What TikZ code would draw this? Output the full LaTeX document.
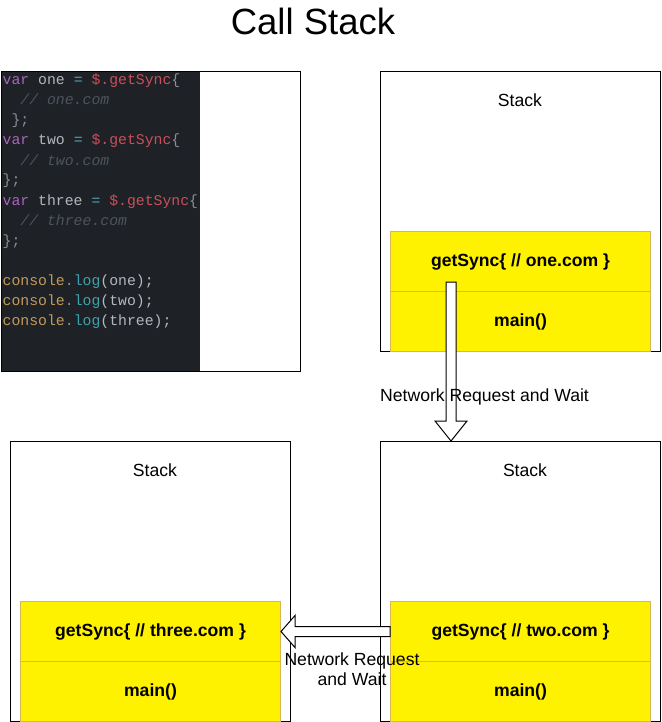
\documentclass[tikz,border=0pt]{standalone}
\usepackage{fontspec}
\setmainfont{Liberation Sans}
\newfontfamily\codefont{Liberation Mono}
\usetikzlibrary{calc}
\definecolor{codebg}{HTML}{1E2125}
\definecolor{ckw}{HTML}{A865BC}
\definecolor{ctx}{HTML}{B4B8BE}
\definecolor{cop}{HTML}{4FA9B3}
\definecolor{cfn}{HTML}{C9505C}
\definecolor{ccm}{HTML}{4E545E}
\definecolor{cpn}{HTML}{8A8F97}
\definecolor{ccn}{HTML}{C49A5C}
\definecolor{clog}{HTML}{3FA3AD}
\definecolor{ystroke}{HTML}{D6B656}
\newcommand{\Kw}[1]{\textcolor{ckw}{#1}}
\newcommand{\Tx}[1]{\textcolor{ctx}{#1}}
\newcommand{\Op}[1]{\textcolor{cop}{#1}}
\newcommand{\Fn}[1]{\textcolor{cfn}{#1}}
\newcommand{\Cm}[1]{\textcolor{ccm}{\itshape #1}}
\newcommand{\Pn}[1]{\textcolor{cpn}{#1}}
\newcommand{\Cn}[1]{\textcolor{ccn}{#1}}
\newcommand{\Lg}[1]{\textcolor{clog}{#1}}
\begin{document}
\begin{tikzpicture}[x=1pt,y=-1pt,
  codeline/.style={anchor=base west,inner sep=0pt,font=\codefont\fontsize{14.8}{20}\selectfont},
  stackbox/.style={draw=black,line width=1pt,minimum width=280pt,minimum height=280pt,inner sep=0pt,fill=white},
  stacklabel/.style={inner sep=0pt,font=\fontsize{17.6}{20}\selectfont},
  frame/.style={draw=ystroke,fill=yellow,line width=1pt,minimum width=260pt,minimum height=60pt,inner sep=0pt,font=\bfseries\fontsize{17.6}{20}\selectfont},
  blockarrow/.style={draw=black,fill=white,line width=1pt,line join=miter},
  note/.style={inner sep=0pt,font=\fontsize{17.6}{20}\selectfont,align=center}]
\useasboundingbox (0,0) rectangle (661,722);
\fill[white] (0,0) rectangle (661,722);

% title
\node[inner sep=0pt,font=\fontsize{36.5}{40}\selectfont] (title) at (313,21) {Call Stack};

% code panel
\node[draw=black,line width=1pt,minimum width=299pt,minimum height=300pt,inner sep=0pt,anchor=north west] (codepanel) at (1,71) {};
\node[fill=codebg,minimum width=198pt,minimum height=299pt,inner sep=0pt,anchor=north west] (codebg) at (1.5,71.5) {};
\node[codeline] (l1) at (2.5,85) {\Kw{var} \Tx{one} \Op{=} \Fn{\$.getSync}\Pn{\{}};
\node[codeline] (l2) at (2.5,105) {\phantom{ab}\Cm{// one.com}};
\node[codeline] (l3) at (2.5,125) {\phantom{a}\Pn{\};}};
\node[codeline] (l4) at (2.5,145) {\Kw{var} \Tx{two} \Op{=} \Fn{\$.getSync}\Pn{\{}};
\node[codeline] (l5) at (2.5,165) {\phantom{ab}\Cm{// two.com}};
\node[codeline] (l6) at (2.5,185) {\Pn{\};}};
\node[codeline] (l7) at (2.5,205) {\Kw{var} \Tx{three} \Op{=} \Fn{\$.getSync}\Pn{\{}};
\node[codeline] (l8) at (2.5,225) {\phantom{ab}\Cm{// three.com}};
\node[codeline] (l9) at (2.5,245) {\Pn{\};}};
\node[codeline] (l11) at (2.5,285) {\Cn{console}\Pn{.}\Lg{log}\Tx{(one);}};
\node[codeline] (l12) at (2.5,305) {\Cn{console}\Pn{.}\Lg{log}\Tx{(two);}};
\node[codeline] (l13) at (2.5,325) {\Cn{console}\Pn{.}\Lg{log}\Tx{(three);}};

% stacks
\node[stackbox,anchor=north west] (stackA) at (380,71) {};
\node[stackbox,anchor=north west] (stackB) at (380,441) {};
\node[stackbox,anchor=north west] (stackC) at (10,441) {};
\node[stacklabel] (labA) at (520,100) {Stack};
\node[stacklabel] (labB) at (525,470) {Stack};
\node[stacklabel] (labC) at (155,470) {Stack};

% frames
\node[frame,anchor=north west] (one) at (390,231) {getSync\{ // one.com \}};
\node[frame,anchor=north west] (mainA) at (390,291) {main()};
\node[frame,anchor=north west] (two) at (390,601) {getSync\{ // two.com \}};
\node[frame,anchor=north west] (mainB) at (390,661) {main()};
\node[frame,anchor=north west] (three) at (20,601) {getSync\{ // three.com \}};
\node[frame,anchor=north west] (mainC) at (20,661) {main()};

% down block arrow
\coordinate (dS) at ($(one.south west)+(61,-10)$);
\coordinate (dE) at ($(stackB.north west)+(71,0)$);
\draw[blockarrow] ($(dS)+(-5,0)$) -- ($(dE)+(-5,-20)$) -- ($(dE)+(-16,-20)$) -- (dE)
  -- ($(dE)+(16,-20)$) -- ($(dE)+(5,-20)$) -- ($(dS)+(5,0)$) -- cycle;
\node[note,anchor=west] (noteA) at (380,397) {Network Request and Wait};

% left block arrow
\coordinate (lS) at (two.west);
\coordinate (lE) at (three.east);
\draw[blockarrow] ($(lS)+(0,-5)$) -- ($(lE)+(14,-5)$) -- ($(lE)+(14,-16)$) -- (lE)
  -- ($(lE)+(14,16)$) -- ($(lE)+(14,5)$) -- ($(lS)+(0,5)$) -- cycle;
\node[note] (noteB) at (352,669) {Network Request\\and Wait};
\end{tikzpicture}
\end{document}
